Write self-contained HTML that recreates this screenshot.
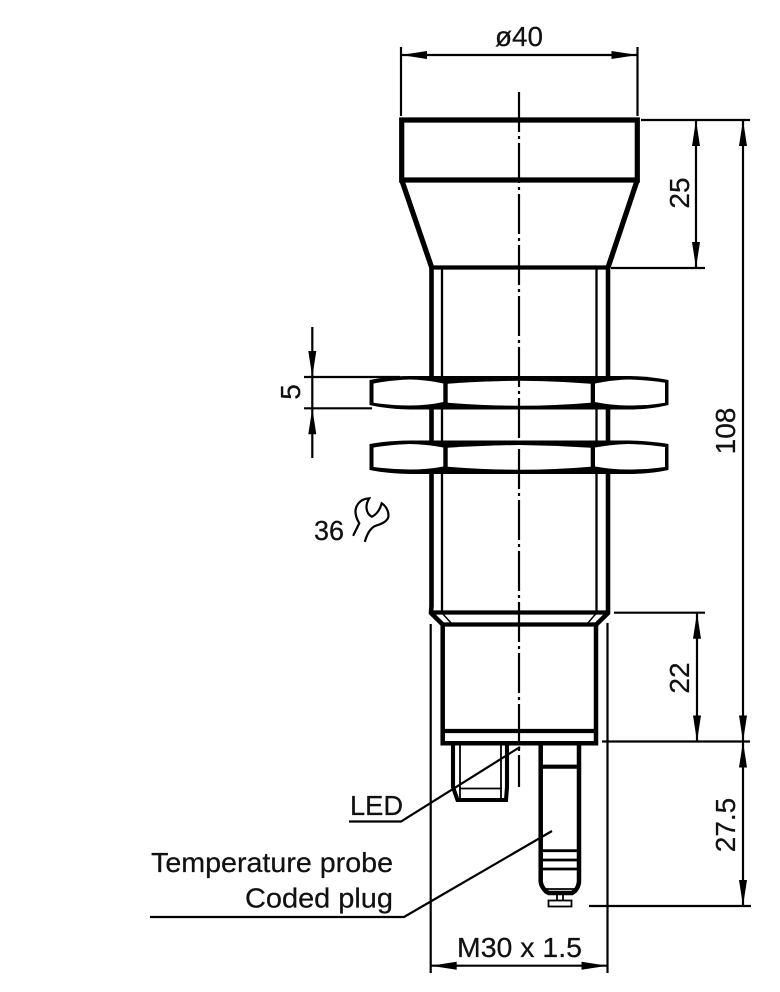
<!DOCTYPE html>
<html>
<head>
<meta charset="utf-8">
<style>
html,body{margin:0;padding:0;background:#fff;width:780px;height:992px;overflow:hidden}
svg{display:block}
text{font-family:"Liberation Sans",Arial,sans-serif;font-size:28px;fill:#111;stroke:#111;stroke-width:.25px}
.t{fill:none;stroke:#000}
.m{fill:none;stroke:#000}
.d{fill:none;stroke:#000;stroke-width:2.2px}
.a{fill:#000;stroke:none}
.w{fill:#fff;stroke:none}
</style>
</head>
<body>
<svg width="780" height="992" viewBox="0 0 780 992" xmlns="http://www.w3.org/2000/svg">
<rect width="780" height="992" fill="#fff"/>

<!-- body thin inner -->
<path class="m" style="stroke-width:2.3px" d="M442 268V612M596.5 268V612"/>
<!-- body outer -->
<path class="t" style="stroke-width:4.6px" d="M431.5 267.5V606L431 613L442.7 624.5M608 267.5V606L608 613L596.3 624.5"/>
<path class="m" style="stroke-width:1.5px" d="M442 613L452 624M596.5 613L587 624"/>
<path class="t" style="stroke-width:4.2px" d="M431 612.5H608M442 624.5H597"/>

<!-- head -->
<path class="t" style="stroke-width:5.2px" d="M401.7 120H637.3V180H401.7ZM401.7 180L431.7 267.5M637.3 180L608 267.5"/>
<path class="t" style="stroke-width:4.2px" d="M431.7 267.5H608"/>

<!-- lower housing -->
<path class="t" style="stroke-width:4.5px" d="M442.7 624V743.3H596V624"/>
<path class="t" style="stroke-width:4.2px" d="M442.7 731H596"/>

<!-- LED plug -->
<path class="t" style="stroke-width:4.1px" d="M453 745V787L457.5 800H506L507 787V745"/>
<path class="m" style="stroke-width:1.8px" d="M460 745V800M501 745V800M459 788.5H502"/>

<!-- probe -->
<path class="t" style="stroke-width:4.5px" d="M540.7 745V881Q540.7 886 546 891.5L549 893H572L575 891Q579 886 579 881V745"/>
<path class="t" style="stroke-width:4.2px" d="M541 766.7H579"/>
<path class="t" style="stroke-width:2.8px" d="M541 850.7H579M541 860H579M541 869H579"/>
<path class="m" style="stroke-width:1.8px" d="M543 889H577"/>
<path class="m" style="stroke-width:1.8px" d="M557 893V900M563 893V900"/>
<rect x="548.5" y="900.5" width="23" height="6" fill="#fff" stroke="#000" style="stroke-width:1.8px"/>

<!-- nuts -->
<path fill="#000" d="M369.5 380Q390 376 410 376L630 376Q650 376.5 668.5 380L668.5 405Q650 409.5 630 409.5L410 409.5Q390 409.5 369.5 405Z"/>
<path class="w" d="M373.5 383.5Q392 380 410 379.5Q428 380 443.3 383.5V402Q428 405.5 410 405.5Q392 405.5 373.5 402.7Z"/>
<path class="w" d="M447.7 383.7Q485 381 519 380.7Q555 381 590.7 383.7V402.7Q555 405.7 519 405.7Q485 405.7 447.7 402.7Z"/>
<path class="w" d="M595 383.5Q612 380 628 379.5Q648 380 665 382.7V402.7Q648 405.5 628 405.5Q612 405.5 595 402Z"/>
<path fill="#000" d="M369.5 444Q390 440.5 410 440.5L630 440.5Q650 441 668.5 444L668.5 470Q650 474 630 474L410 474Q390 474 369.5 470Z"/>
<path class="w" d="M373.5 447.5Q392 444.5 410 444Q428 444.5 443.3 447.5V466.5Q428 469.5 410 469.5Q392 469.5 373.5 467Z"/>
<path class="w" d="M447.7 447.7Q485 445.5 519 445Q555 445.5 590.7 447.7V466.7Q555 469.7 519 469.7Q485 469.7 447.7 466.7Z"/>
<path class="w" d="M595 447.5Q612 444.5 628 444Q648 444.5 665 447V467Q648 469.5 628 469.5Q612 469.5 595 466.5Z"/>

<!-- center line -->
<line x1="519" y1="92" x2="519" y2="787" stroke="#000" style="stroke-width:2.2px" stroke-dasharray="40 4 3 4"/>

<!-- extension lines -->
<path class="d" d="M401 47V116M637.5 47V116"/>
<path class="d" d="M641 120H750M611 268H705M614 612.7H705M602 741.5H750M589 906H751"/>
<path class="d" d="M304 377H400M304 408.3H372"/>
<path class="d" d="M430.7 624V973M607.5 623V973"/>

<!-- dimension lines -->
<path class="d" d="M401 55H637.5"/>
<path class="a" d="M401 55L427 51V59ZM637.5 55L611.5 51V59Z"/>
<path class="d" d="M696 120V268"/>
<path class="a" d="M696 120L692 146H700ZM696 268L692 242H700Z"/>
<path class="d" d="M743 120V741.5"/>
<path class="a" d="M743 120L739 146H747ZM743 741.5L739 715.5H747Z"/>
<path class="d" d="M697 612.7V741.5"/>
<path class="a" d="M697 612.7L693 638.7H701ZM697 741.5L693 715.5H701Z"/>
<path class="d" d="M743 741.5V906"/>
<path class="a" d="M743 741.5L739 767.5H747ZM743 906L739 880H747Z"/>
<path class="d" d="M312.3 327V458"/>
<path class="a" d="M312.3 377L308.3 351H316.3ZM312.3 408.3L308.3 434.3H316.3Z"/>
<path class="d" d="M430.7 965.7H607.5"/>
<path class="a" d="M430.7 965.7L456.7 961.7V969.7ZM607.5 965.7L581.5 961.7V969.7Z"/>

<!-- leaders -->
<path class="d" d="M349 821.5H401L520 747"/>
<path class="d" d="M150 917H404L552 831"/>

<!-- wrench -->
<path fill="none" stroke="#000" style="stroke-width:2.2px" stroke-linecap="round" d="M353.5 535L359.3 523.3C355 516 354 509 358.3 503.5C361 500 365 498.5 369.3 498.3C365 505 365.5 513 371.7 516.7C376 515 380 510 381.7 503.3C387.3 506.7 390 515 387.5 519C384 524 378 524.5 374 526.5C369 530 367 535 365 541"/>

<!-- labels -->
<text x="495" y="46" textLength="48" lengthAdjust="spacingAndGlyphs">ø40</text>
<text transform="translate(689,193) rotate(-90)" text-anchor="middle">25</text>
<text transform="translate(735,431) rotate(-90)" text-anchor="middle">108</text>
<text transform="translate(300,392) rotate(-90)" text-anchor="middle">5</text>
<text transform="translate(689,678) rotate(-90)" text-anchor="middle">22</text>
<text transform="translate(735,825) rotate(-90)" text-anchor="middle">27.5</text>
<text x="314" y="540" textLength="30" lengthAdjust="spacingAndGlyphs">36</text>
<text x="350" y="815" textLength="53" lengthAdjust="spacingAndGlyphs">LED</text>
<text x="151" y="872" textLength="242" lengthAdjust="spacingAndGlyphs">Temperature probe</text>
<text x="245" y="907.5" textLength="148" lengthAdjust="spacingAndGlyphs">Coded plug</text>
<text x="457" y="957" textLength="125" lengthAdjust="spacingAndGlyphs">M30 x 1.5</text>
</svg>
</body>
</html>
